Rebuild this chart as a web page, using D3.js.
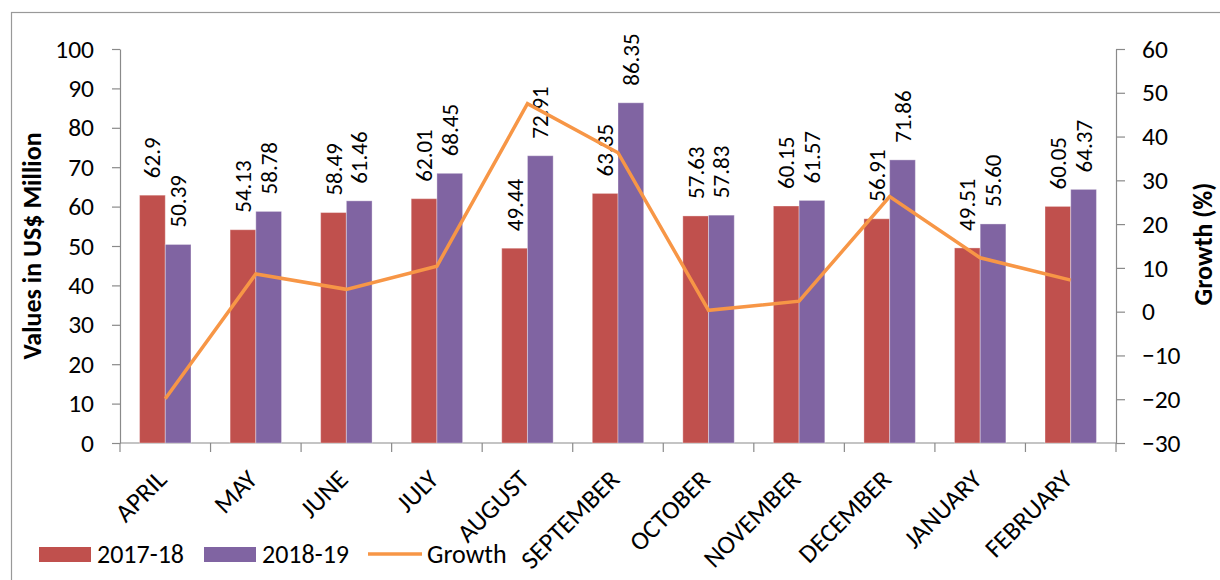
<!DOCTYPE html>
<html>
<head>
<meta charset="utf-8">
<script src="https://cdn.jsdelivr.net/npm/d3@7"></script>
<style>
  body { margin: 0; background: #fff; }
  text { font-family: Carlito, Calibri, Lato, sans-serif; fill: #000; }
</style>
</head>
<body>
<div id="chart"></div>
<script>
const months = ["APRIL", "MAY", "JUNE", "JULY", "AUGUST", "SEPTEMBER", "OCTOBER", "NOVEMBER", "DECEMBER", "JANUARY", "FEBRUARY"]
// values kept as the strings shown on the labels
const v1718 = ["62.9", "54.13", "58.49", "62.01", "49.44", "63.35", "57.63", "60.15", "56.91", "49.51", "60.05"]
const v1819 = ["50.39", "58.78", "61.46", "68.45", "72.91", "86.35", "57.83", "61.57", "71.86", "55.60", "64.37"]
const growth = [-19.9, 8.6, 5.1, 10.4, 47.5, 36.3, 0.3, 2.4, 26.3, 12.3, 7.2]
const leftTicks = [0, 10, 20, 30, 40, 50, 60, 70, 80, 90, 100]
const rightTicks = [-30, -20, -10, 0, 10, 20, 30, 40, 50, 60]

const width = 1220, height = 580
const axisCol = "#8a8a8a"
const red = "#C0504D", purple = "#8064A2", orange = "#F79646"

const svg = d3.select("#chart").append("svg")
    .attr("width", width)
    .attr("height", height)

// chart frame (runs off the right and bottom edges)
svg.append("rect")
    .attr("x", 11.5).attr("y", 12.5)
    .attr("width", 1300).attr("height", 700)
    .attr("fill", "none").attr("stroke", "#999").attr("stroke-width", 1.2)

const x = d3.scaleBand().domain(months).range([120, 1116])
const y = d3.scaleLinear().domain([0, 100]).range([443, 49])
const y2 = d3.scaleLinear().domain([-30, 60]).range([443, 49])
const barW = x.bandwidth() * 0.284

// left axis
const gl = svg.append("g")
    .attr("transform", "translate(120,0)")
    .call(d3.axisLeft(y).tickValues(leftTicks).tickSize(8).tickSizeOuter(0).tickPadding(18))
gl.selectAll("text").style("font-size", "25.5px")

// right axis
const gr = svg.append("g")
    .attr("transform", "translate(1116,0)")
    .call(d3.axisRight(y2).tickValues(rightTicks).tickSize(9).tickSizeOuter(0).tickPadding(17))
gr.selectAll("text").style("font-size", "25.5px")

svg.selectAll(".domain, .tick line").attr("stroke", axisCol).attr("stroke-width", 1.2)
svg.selectAll(".tick text").attr("fill", "#000").style("font-family", "Carlito, Calibri, Lato, sans-serif")

// bottom axis line and ticks between categories
svg.append("line")
    .attr("x1", 120).attr("x2", 1116)
    .attr("y1", y(0)).attr("y2", y(0))
    .attr("stroke", axisCol).attr("stroke-width", 1.2)

svg.selectAll("xtick")
    .data(months.concat(["_end"]))
    .enter()
    .append("line")
    .attr("x1", (d, i) => i < months.length ? x(d) : x.range()[1])
    .attr("x2", (d, i) => i < months.length ? x(d) : x.range()[1])
    .attr("y1", y(0)).attr("y2", y(0) + 9)
    .attr("stroke", axisCol).attr("stroke-width", 1.2)

// bars
const groups = svg.append("g")
    .selectAll("g")
    .data(months)
    .enter()
    .append("g")
    .attr("transform", d => "translate(" + (x(d) + x.bandwidth() / 2) + ",0)")

groups.append("rect")
    .attr("x", -barW)
    .attr("y", (d, i) => y(+v1718[i]))
    .attr("width", barW)
    .attr("height", (d, i) => y(0) - y(+v1718[i]))
    .attr("fill", red)
    .attr("stroke", "#fff").attr("stroke-opacity", 0.35).attr("stroke-width", 1)

groups.append("rect")
    .attr("x", 0)
    .attr("y", (d, i) => y(+v1819[i]))
    .attr("width", barW)
    .attr("height", (d, i) => y(0) - y(+v1819[i]))
    .attr("fill", purple)
    .attr("stroke", "#fff").attr("stroke-opacity", 0.35).attr("stroke-width", 1)

// growth line
const line = d3.line()
    .x((d, i) => x(months[i]) + x.bandwidth() / 2)
    .y(d => y2(d))

svg.append("path")
    .datum(growth)
    .attr("d", line)
    .attr("fill", "none")
    .attr("stroke", orange)
    .attr("stroke-width", 3.5)
    .attr("stroke-linejoin", "miter")

// value labels, rotated
groups.append("text")
    .attr("transform", (d, i) => "translate(" + (-barW / 2) + "," + (y(+v1718[i]) - 17) + ") rotate(-90)")
    .attr("dy", "0.35em")
    .style("font-size", "23px")
    .text((d, i) => v1718[i])

groups.append("text")
    .attr("transform", (d, i) => "translate(" + (barW / 2) + "," + (y(+v1819[i]) - 17) + ") rotate(-90)")
    .attr("dy", "0.35em")
    .style("font-size", "23px")
    .text((d, i) => v1819[i])

// category labels
svg.selectAll("xlabel")
    .data(months)
    .enter()
    .append("text")
    .attr("transform", d => "translate(" + (x(d) + x.bandwidth() / 2 + 3) + ",481) rotate(-45)")
    .attr("text-anchor", "end")
    .style("font-size", "26px")
    .text(d => d)

// axis titles
svg.append("text")
    .attr("transform", "translate(32,246) rotate(-90)")
    .attr("text-anchor", "middle")
    .attr("dy", "0.35em")
    .style("font-size", "26px")
    .style("font-weight", "bold")
    .text("Values in US$ Million")

svg.append("text")
    .attr("transform", "translate(1203,244) rotate(-90)")
    .attr("text-anchor", "middle")
    .attr("dy", "0.35em")
    .style("font-size", "26px")
    .style("font-weight", "bold")
    .text("Growth (%)")

// legend
const legend = [
    {name: "2017-18", col: red, type: "rect", x: 39, tx: 97},
    {name: "2018-19", col: purple, type: "rect", x: 204, tx: 262},
    {name: "Growth", col: orange, type: "line", x: 368, tx: 427}
]

legend.forEach(function(l){
    if (l.type == "rect") {
        svg.append("rect")
            .attr("x", l.x).attr("y", 547)
            .attr("width", 52).attr("height", 15)
            .attr("fill", l.col)
    } else {
        svg.append("line")
            .attr("x1", l.x).attr("x2", l.x + 54)
            .attr("y1", 554).attr("y2", 554)
            .attr("stroke", l.col).attr("stroke-width", 3.5)
    }
    svg.append("text")
        .attr("x", l.tx).attr("y", 563)
        .style("font-size", "26px")
        .text(l.name)
})
</script>
</body>
</html>
